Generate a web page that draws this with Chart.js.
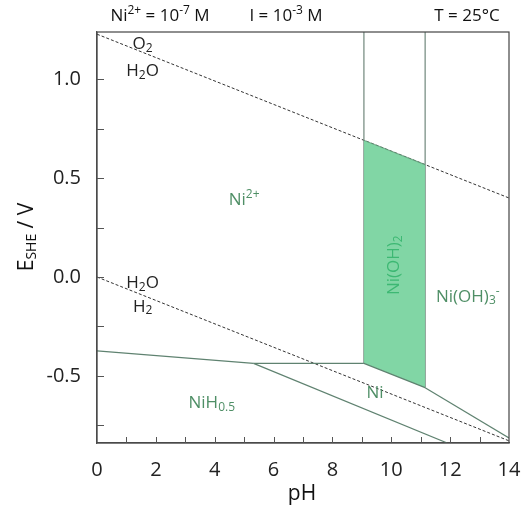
<!DOCTYPE html>
<html>
<head>
<meta charset="utf-8">
<script src="https://cdn.jsdelivr.net/npm/chart.js@4.4.0/dist/chart.umd.min.js"></script>
<style>
  html, body { margin: 0; padding: 0; background: #fff; }
  #wrap { width: 521px; height: 514px; }
</style>
</head>
<body>
<div id="wrap"><canvas id="pourbaix"></canvas></div>
<script>
// boundary lines, [pH, E] pairs
const o2Line   = [[0, 1.229], [14, 0.400]];
const h2Line   = [[0, 0.0], [14, -0.829]];
const ni2NiH   = [[0, -0.374], [5.32, -0.437]];
const ni2Ni    = [[5.32, -0.437], [9.07, -0.437]];
const niNiH    = [[5.32, -0.437], [11.9, -0.84]];
const niOH2Ni  = [[9.07, -0.437], [11.15, -0.56]];
const niOH3Ni  = [[11.15, -0.56], [14, -0.815]];
const vLeft    = [[9.07, 1.24], [9.07, -0.437]];
const vRight   = [[11.15, 1.24], [11.15, -0.56]];
const solidTop = [[9.07, 0.692], [11.15, 0.569]];

const xRange = [0, 14];
const yRange = [-0.84, 1.24];
const xLabelTicks = [0, 2, 4, 6, 8, 10, 12, 14];
const yLabelTicks = [-0.5, 0.0, 0.5, 1.0];

// region / species labels: [pH, E, parts, colour, rotate]
const labels = [
  [1.55, 1.18, [['O', 'n'], ['2', 'sub']], '#222', 0],
  [1.55, 1.04, [['H', 'n'], ['2', 'sub'], ['O', 'n']], '#222', 0],
  [1.55, -0.03, [['H', 'n'], ['2', 'sub'], ['O', 'n']], '#222', 0],
  [1.55, -0.15, [['H', 'n'], ['2', 'sub']], '#222', 0],
  [5.0, 0.39, [['Ni', 'n'], ['2+', 'sup']], '#4f8f66', 0],
  [10.1, 0.06, [['Ni(OH)', 'n'], ['2', 'sub']], '#3db873', -90],
  [12.6, -0.10, [['Ni(OH)', 'n'], ['3', 'sub'], ['-', 'sup']], '#4f8f66', 0],
  [3.9, -0.64, [['NiH', 'n'], ['0.5', 'sub']], '#4f8f66', 0],
  [9.45, -0.59, [['Ni', 'n']], '#4f8f66', 0]
];

const FONT = '"Open Sans", "DejaVu Sans", sans-serif';
const lineCol = '#5f8270';
const vCol = '#70887c';

function pts(a) { return a.map(p => ({x: p[0], y: p[1]})); }

function drawRich(ctx, x, y, parts, size, color, align) {
  const small = Math.round(size * 0.68);
  let w = 0;
  parts.forEach(p => {
    ctx.font = (p[1] === 'n' ? size : small) + 'px ' + FONT;
    w += ctx.measureText(p[0]).width;
  });
  let cx = align === 'center' ? x - w / 2 : x;
  ctx.fillStyle = color;
  ctx.textBaseline = 'middle';
  ctx.textAlign = 'left';
  parts.forEach(p => {
    let dy = 0;
    if (p[1] === 'sup') dy = -size * 0.32;
    if (p[1] === 'sub') dy = size * 0.25;
    ctx.font = (p[1] === 'n' ? size : small) + 'px ' + FONT;
    ctx.fillText(p[0], cx, y + dy);
    cx += ctx.measureText(p[0]).width;
  });
}

const decor = {
  id: 'decor',
  afterDraw(chart) {
    const ctx = chart.ctx, xs = chart.scales.x, ys = chart.scales.y, a = chart.chartArea;
    ctx.save();
    // inward ticks
    ctx.strokeStyle = '#555';
    ctx.lineWidth = 1;
    ctx.beginPath();
    for (let v = xRange[0] + 1; v < xRange[1]; v++) {
      const px = Math.round(xs.getPixelForValue(v)) + 0.5;
      ctx.moveTo(px, a.bottom);
      ctx.lineTo(px, a.bottom - 6);
    }
    for (let v = -0.75; v <= 1.0001; v += 0.25) {
      const py = Math.round(ys.getPixelForValue(v)) + 0.5;
      ctx.moveTo(a.left, py);
      ctx.lineTo(a.left + 7, py);
    }
    ctx.stroke();
    // species labels
    labels.forEach(l => {
      const px = xs.getPixelForValue(l[0]), py = ys.getPixelForValue(l[1]);
      ctx.save();
      ctx.translate(px, py);
      ctx.rotate(l[4] * Math.PI / 180);
      drawRich(ctx, 0, 0, l[2], 17, l[3], 'center');
      ctx.restore();
    });
    // header
    drawRich(ctx, 160, 16, [['Ni', 'n'], ['2+', 'sup'], [' = 10', 'n'], ['-7', 'sup'], [' M', 'n']], 17, '#111', 'center');
    drawRich(ctx, 286, 16, [['I = 10', 'n'], ['-3', 'sup'], [' M', 'n']], 17, '#111', 'center');
    drawRich(ctx, 467, 16, [['T = 25°C', 'n']], 17, '#111', 'center');
    // axis titles
    drawRich(ctx, 302, 494, [['pH', 'n']], 21, '#111', 'center');
    ctx.save();
    ctx.translate(27, 237);
    ctx.rotate(-Math.PI / 2);
    drawRich(ctx, 0, 0, [['E', 'n'], ['SHE', 'sub'], [' / V', 'n']], 21, '#111', 'center');
    ctx.restore();
    ctx.restore();
  }
};

function seg(data, color, dash, extra) {
  return Object.assign({
    data: pts(data), showLine: true, borderColor: color, borderWidth: 1.2,
    borderDash: dash || [], pointRadius: 0, fill: false, tension: 0
  }, extra || {});
}

new Chart(document.getElementById('pourbaix'), {
  type: 'scatter',
  data: {
    datasets: [
      seg(niOH2Ni, lineCol),                                   // 0
      seg(solidTop, 'rgba(90,140,110,0.6)', [], {fill: 0, backgroundColor: 'rgba(122,212,160,0.95)'}),
      seg(ni2NiH, lineCol),
      seg(ni2Ni, lineCol),
      seg(niNiH, lineCol),
      seg(niOH3Ni, lineCol),
      seg(vLeft, vCol),
      seg(vRight, vCol),
      seg(o2Line, '#333', [3, 2], {borderWidth: 1}),
      seg(h2Line, '#333', [3, 2], {borderWidth: 1})
    ]
  },
  options: {
    responsive: true,
    maintainAspectRatio: false,
    animation: false,
    layout: { padding: { top: 32, right: 0, left: 0, bottom: 0 } },
    plugins: { legend: { display: false }, tooltip: { enabled: false } },
    scales: {
      x: {
        type: 'linear', min: xRange[0], max: xRange[1],
        grid: { display: false },
        border: { display: true, color: '#555', width: 1.2 },
        afterFit(s) { s.height = 71; s.paddingRight = 12; s.paddingLeft = 0; },
        ticks: {
          stepSize: 1, autoSkip: false, maxRotation: 0, padding: 7,
          color: '#222', font: { family: FONT, size: 20 },
          callback: v => xLabelTicks.includes(v) ? String(v) : ''
        }
      },
      y: {
        type: 'linear', min: yRange[0], max: yRange[1],
        grid: { display: false },
        border: { display: true, color: '#555', width: 1.2 },
        afterFit(s) { s.width = 97; },
        ticks: {
          stepSize: 0.25, autoSkip: false, padding: 8,
          color: '#222', font: { family: FONT, size: 20 },
          callback: v => yLabelTicks.some(t => Math.abs(t - v) < 1e-6) ? v.toFixed(1) : ''
        }
      }
    }
  },
  plugins: [decor, {
    id: 'frame',
    afterDatasetsDraw(chart) {
      const a = chart.chartArea, ctx = chart.ctx;
      ctx.save();
      ctx.strokeStyle = '#444';
      ctx.lineWidth = 1.2;
      ctx.strokeRect(a.left, a.top, a.right - a.left, a.bottom - a.top);
      ctx.restore();
    }
  }]
});
</script>
</body>
</html>
